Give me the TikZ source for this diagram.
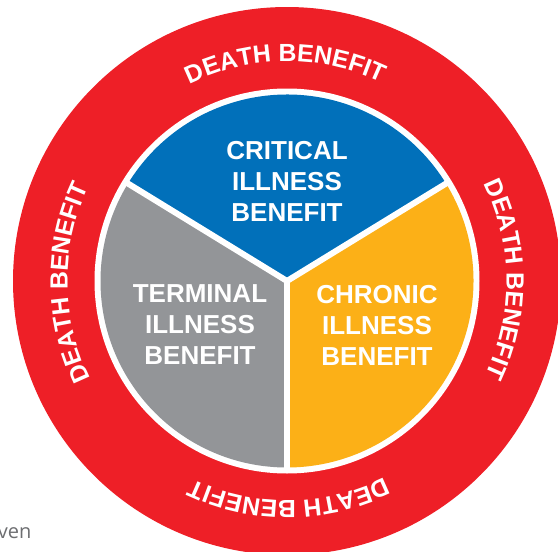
\documentclass[tikz,border=0pt]{standalone}
\usepackage{fontspec}
\setmainfont{Liberation Sans}
\newfontfamily\venfont{Open Sans}
\usetikzlibrary{decorations.text,calc}
\definecolor{ringred}{HTML}{EE1F27}
\definecolor{critblue}{HTML}{0170BA}
\definecolor{termgray}{HTML}{939598}
\definecolor{chronyellow}{HTML}{FCB017}
\definecolor{vengray}{HTML}{6D6E71}
\newcommand{\ringfont}{\fontsize{24.8}{25}\selectfont\bfseries}
\tikzset{
  seglabel/.style={text=white,font=\fontsize{26}{31}\selectfont\bfseries,align=center,inner sep=0pt},
  ringtext/.style={decorate,decoration={text along path,text align=center,text color=white,text={|\ringfont|DEATH BENEFIT}}},
  spoke/.style={draw=white,line width=6pt,line cap=butt}
}
\begin{document}
\begin{tikzpicture}[x=1pt,y=1pt]
\useasboundingbox (0,0) rectangle (558,-552);
\coordinate (c) at (287,-281);
\fill[ringred] (c) circle[radius=274pt];
\fill[white] (c) circle[radius=192.5pt];
\fill[critblue] (c) -- ++(148.5:186.5pt) arc[start angle=148.5,end angle=31.5,radius=186.5pt] -- cycle;
\fill[chronyellow] (c) -- ++(31.5:186.5pt) arc[start angle=31.5,end angle=-90,radius=186.5pt] -- cycle;
\fill[termgray] (c) -- ++(-90:186.5pt) arc[start angle=-90,end angle=-211.5,radius=186.5pt] -- cycle;
\coordinate (s1) at ($(c)+(31.5:190pt)$);
\coordinate (s2) at ($(c)+(148.5:190pt)$);
\coordinate (s3) at ($(c)+(-90:190pt)$);
\draw[spoke] (c) -- (s1);
\draw[spoke] (c) -- (s2);
\draw[spoke] (c) -- (s3);
\path[ringtext] ($(c)+(120.4:219.5pt)$) arc[start angle=120.4,end angle=60.4,radius=219.5pt];
\path[ringtext] ($(c)+(30.4:219.5pt)$) arc[start angle=30.4,end angle=-29.6,radius=219.5pt];
\path[ringtext] ($(c)+(-59.5:219.5pt)$) arc[start angle=-59.5,end angle=-119.5,radius=219.5pt];
\path[ringtext] ($(c)+(210.5:219.5pt)$) arc[start angle=210.5,end angle=150.5,radius=219.5pt];
\node[seglabel] (crit) at (287,-181) {CRITICAL\\ILLNESS\\BENEFIT};
\node[seglabel] (term) at (200,-325) {TERMINAL\\ILLNESS\\BENEFIT};
\node[seglabel] (chron) at (377,-325) {CHRONIC\\ILLNESS\\BENEFIT};
\node[anchor=base east,inner sep=0pt,text=vengray,font=\venfont\fontsize{20}{20}\selectfont] (ven) at (31.5,-538) {ven};
\end{tikzpicture}
\end{document}
